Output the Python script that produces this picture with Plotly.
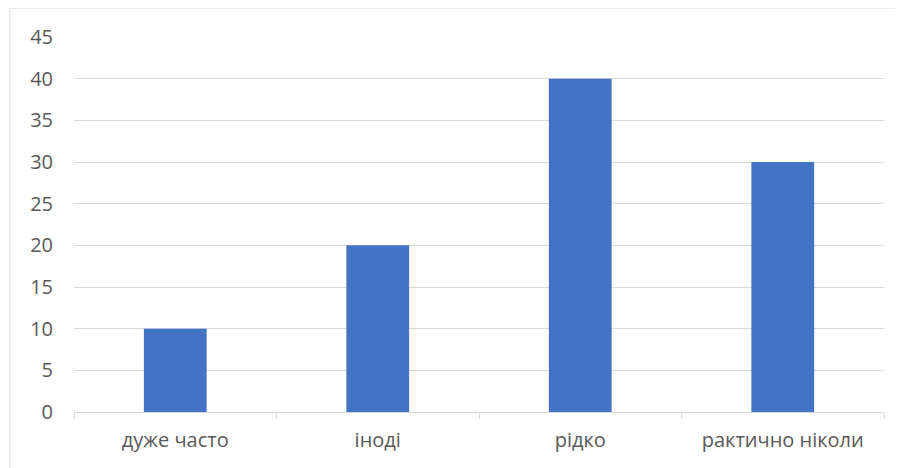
import plotly.graph_objects as go

categories = ["дуже часто", "іноді", "рідко", "рактично ніколи"]
values = [10, 20, 40, 30]
y_ticks = [0, 5, 10, 15, 20, 25, 30, 35, 40, 45]

OFF = 8  # page body margin
W, H = 903 - OFF, 468 - OFF
L, T = 74 - OFF, 37 - OFF
pw, ph = 810, 375
R = W - L - pw
B = H - T - ph

fig = go.Figure()
fig.add_trace(go.Bar(x=categories, y=values, marker=dict(color="#4472C4", line=dict(width=0)),
                     hoverinfo="x+y"))

fig.update_layout(
    width=W, height=H,
    margin=dict(l=L, r=R, t=T, b=B, pad=0),
    paper_bgcolor="white", plot_bgcolor="white",
    bargap=0.69,
    showlegend=False,
    font=dict(family="Open Sans, sans-serif", size=20, color="#595959"),
    xaxis=dict(
        type="category",
        showgrid=False,
        showline=True, linecolor="#D9D9D9", linewidth=1,
        ticks="outside", tickson="boundaries", ticklen=6, tickcolor="#D9D9D9", tickwidth=1,
        tickfont=dict(size=20, color="#595959"),
        ticklabelstandoff=10,
        fixedrange=True,
    ),
    yaxis=dict(
        range=[0, 45],
        tickvals=y_ticks,
        ticktext=[str(v) for v in y_ticks],
        showgrid=True, gridcolor="#D9D9D9", gridwidth=1,
        zeroline=False,
        showline=False,
        ticks="",
        tickfont=dict(size=20, color="#595959"),
        ticklabelstandoff=20,
        fixedrange=True,
    ),
    shapes=[dict(
        type="rect", xref="paper", yref="paper",
        x0=(10 - 74) / pw, x1=1.2,
        y0=-0.3, y1=(412 - 8) / ph,
        line=dict(color="#D9D9D9", width=1), fillcolor="rgba(0,0,0,0)", layer="below",
    )],
)

fig.write_html("out.html")
